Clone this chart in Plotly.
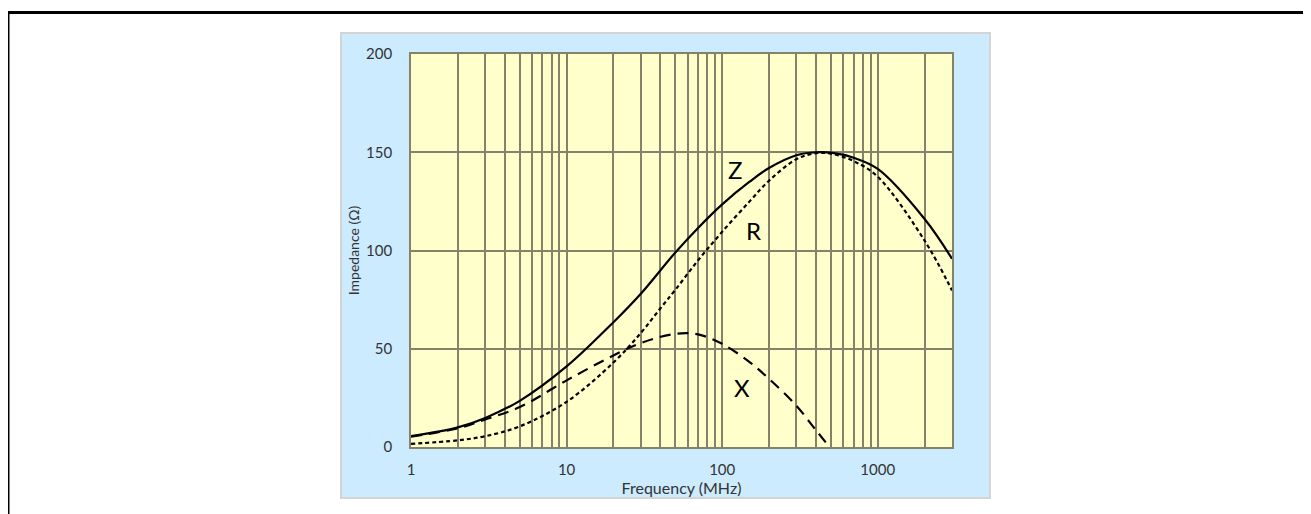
import plotly.graph_objects as go

# ---- data ----
freq_z = [1, 2, 3, 5, 10, 20, 30, 50, 70, 100, 150, 200, 300, 400, 500, 700, 1000, 2000, 3000]
z_vals = [5.5, 10.0, 14.8, 23.5, 41.0, 63.5, 78.0, 99.0, 111.5, 123.5, 135.0, 142.0, 148.5, 150.0, 149.8, 147.2, 141.5, 116.0, 95.8]

freq_r = [1, 2, 3, 5, 10, 20, 30, 40, 50, 70, 100, 150, 200, 300, 400, 500, 700, 1000, 2000, 3000]
r_vals = [1.6, 3.4, 5.5, 10.5, 23.0, 43.0, 58.0, 70.5, 80.0, 95.0, 109.5, 125.0, 135.5, 146.5, 149.5, 149.3, 145.5, 137.5, 105.0, 79.7]

freq_x = [1, 2, 3, 5, 10, 20, 30, 50, 70, 100, 150, 200, 300, 400, 490]
x_vals = [5.3, 9.5, 14.0, 20.3, 33.9, 46.6, 52.9, 57.6, 57.3, 52.5, 43.2, 34.7, 21.0, 8.6, 0.0]

x_tickvals = [1, 2, 3, 4, 5, 6, 7, 8, 9,
              10, 20, 30, 40, 50, 60, 70, 80, 90,
              100, 200, 300, 400, 500, 600, 700, 800, 900,
              1000, 2000]
x_ticktext = ["1" if v == 1 else "10" if v == 10 else "100" if v == 100 else "1000" if v == 1000 else ""
              for v in x_tickvals]
y_tickvals = [0, 50, 100, 150, 200]

curve_labels = ["Z", "R", "X"]

# ---- layout geometry (pixels, figure coords; page has 8px body margin) ----
OFF = 8
W, H = 1311, 514
L, R, T, B = 403, 367, 46, 75
PW, PH = W - L - R, H - T - B


def px(sx):
    return (sx - OFF - L) / PW


def py(sy):
    return (H - B - (sy - OFF)) / PH


FONT = "Lato, 'Open Sans', sans-serif"
GRID = "#84836a"
TXT = "#333333"

fig = go.Figure()

fig.add_trace(go.Scatter(x=freq_z, y=z_vals, mode="lines", line=dict(color="black", width=2.2, shape="spline"),
                         name="Z", showlegend=False))
fig.add_trace(go.Scatter(x=freq_r, y=r_vals, mode="lines",
                         line=dict(color="black", width=2.2, dash="4px,3px", shape="spline"),
                         name="R", showlegend=False))
fig.add_trace(go.Scatter(x=freq_x, y=x_vals, mode="lines",
                         line=dict(color="black", width=2.2, dash="11px,7px", shape="spline"),
                         name="X", showlegend=False))

shapes = [
    # chart area background
    dict(type="rect", xref="paper", yref="paper", x0=px(341), x1=px(990), y0=py(498), y1=py(33),
         fillcolor="#cdebff", line=dict(color="#d4d4d4", width=2), layer="below"),
    # plot area background
    dict(type="rect", xref="paper", yref="paper", x0=0, x1=1, y0=0, y1=1,
         fillcolor="#ffffcc", line=dict(width=0), layer="below"),
    # outer page frame
    dict(type="line", xref="paper", yref="paper", x0=px(8), x1=px(8), y0=py(530), y1=py(11),
         line=dict(color="black", width=3)),
    dict(type="line", xref="paper", yref="paper", x0=px(6.5), x1=px(1330), y0=py(12.5), y1=py(12.5),
         line=dict(color="black", width=3)),
]

annotations = []
label_pos = [(735, 169), (753, 230), (742, 387)]
for lab, (ax_, ay_) in zip(curve_labels, label_pos):
    annotations.append(dict(text=lab, xref="paper", yref="paper", x=px(ax_), y=py(ay_),
                            showarrow=False, xanchor="center", yanchor="middle",
                            font=dict(family=FONT, size=24, color="black")))

fig.update_layout(
    width=W, height=H,
    margin=dict(l=L, r=R, t=T, b=B, pad=0),
    paper_bgcolor="white",
    plot_bgcolor="rgba(0,0,0,0)",
    shapes=shapes,
    annotations=annotations,
    showlegend=False,
    font=dict(family=FONT, size=15, color=TXT),
)

fig.update_xaxes(
    type="log", range=[0, 3.4771],
    tickvals=x_tickvals, ticktext=x_ticktext,
    showgrid=True, gridcolor=GRID, gridwidth=1.6,
    showline=True, linecolor=GRID, linewidth=1.6, mirror=True,
    ticks="", ticklabelstandoff=8,
    tickfont=dict(family=FONT, size=15, color=TXT),
    title=dict(text="Frequency (MHz)", font=dict(family=FONT, size=16, color=TXT), standoff=0),
    zeroline=False,
)
fig.update_yaxes(
    range=[0, 200], tickvals=y_tickvals,
    showgrid=True, gridcolor=GRID, gridwidth=1.6,
    showline=True, linecolor=GRID, linewidth=1.6, mirror=True,
    ticks="", ticklabelstandoff=14,
    tickfont=dict(family=FONT, size=15, color=TXT),
    title=dict(text="Impedance (Ω)", font=dict(family=FONT, size=14, color=TXT), standoff=3),
    zeroline=False,
)

fig.write_html("out.html")
